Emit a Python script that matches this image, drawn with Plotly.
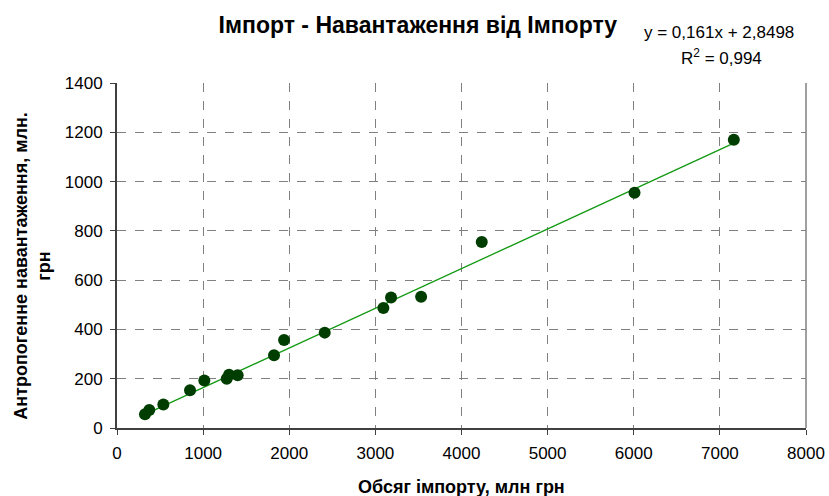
import plotly.graph_objects as go

# Import volume (mln UAH) vs. anthropogenic load (mln UAH)
import_volume = [325, 375, 538, 848, 1014, 1274, 1301, 1401, 1823, 1940,
                 2412, 3093, 3182, 3531, 4235, 6009, 7162]
anthropogenic_load = [56, 73, 95, 153, 193, 200, 216, 214, 295, 357,
                      387, 487, 530, 533, 755, 955, 1170]

# Linear trend coefficients
slope = 0.161
intercept = 2.8498
r_squared = "0,994"

x_ticks = [0, 1000, 2000, 3000, 4000, 5000, 6000, 7000, 8000]
y_ticks = [0, 200, 400, 600, 800, 1000, 1200, 1400]

trend_x = [min(import_volume), max(import_volume)]
trend_y = [slope * v + intercept for v in trend_x]

FONT = "Liberation Sans, Arial, sans-serif"

fig = go.Figure()
fig.add_trace(go.Scatter(
    x=trend_x, y=trend_y, mode="lines",
    line=dict(color="#119911", width=1.3),
    hoverinfo="skip", showlegend=False,
))
fig.add_trace(go.Scatter(
    x=import_volume, y=anthropogenic_load, mode="markers",
    marker=dict(color="#003d00", size=12, line=dict(width=0)),
    showlegend=False,
))

fig.update_layout(
    width=829, height=496,
    margin=dict(l=117, r=23, t=83, b=68),
    paper_bgcolor="white", plot_bgcolor="white",
    font=dict(family=FONT, color="black", size=17),
    title=dict(
        text="<b>Імпорт - Навантаження від Імпорту</b>",
        x=0.504, xanchor="center", y=0.95, yanchor="middle",
        font=dict(size=23, family=FONT),
    ),
    xaxis=dict(
        range=[0, 8000], tickvals=x_ticks, automargin=False,
        ticks="outside", ticklen=5, tickcolor="#404040",
        showline=True, linecolor="#404040", linewidth=2,
        showgrid=True, gridcolor="#808080", griddash="dash", gridwidth=1,
        zeroline=False, tickfont=dict(size=17), ticklabelstandoff=4,
    ),
    yaxis=dict(
        range=[0, 1400], tickvals=y_ticks, automargin=False,
        ticks="outside", ticklen=5, tickcolor="#404040",
        showline=True, linecolor="#404040", linewidth=2,
        showgrid=True, gridcolor="#808080", griddash="dash", gridwidth=1,
        zeroline=False, tickfont=dict(size=17), ticklabelstandoff=4,
    ),
    shapes=[dict(type="line", xref="paper", yref="paper", x0=1, x1=1, y0=0, y1=1,
                 line=dict(color="#808080", width=1.5))],
    annotations=[
        dict(text="<b>Обсяг імпорту, млн грн</b>",
             xref="paper", yref="paper", x=0.5, y=-0.172, xanchor="center", yanchor="middle",
             showarrow=False, font=dict(size=18, family=FONT)),
        dict(text="<b>Антропогенне навантаження, млн.<br>грн</b>",
             xref="paper", yref="paper", x=-0.122, y=0.47, xanchor="center", yanchor="middle",
             textangle=-90, showarrow=False, font=dict(size=18, family=FONT)),
        dict(text=f"y = {str(slope).replace('.', ',')}x + {str(intercept).replace('.', ',')}",
             xref="paper", yref="paper", x=0.874, y=1.145, xanchor="center", yanchor="middle",
             showarrow=False, font=dict(size=17, family=FONT)),
        dict(text=f"R<sup>2</sup> = {r_squared}",
             xref="paper", yref="paper", x=0.878, y=1.075, xanchor="center", yanchor="middle",
             showarrow=False, font=dict(size=17, family=FONT)),
    ],
)

fig.write_html("out.html")
